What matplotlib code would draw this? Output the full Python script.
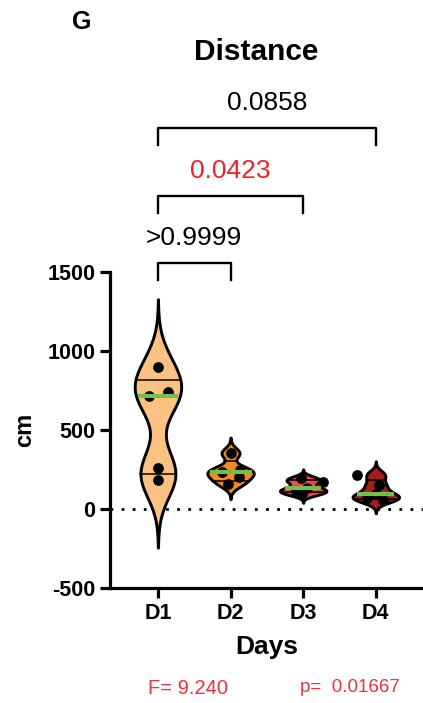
import numpy as np
import matplotlib
matplotlib.use("Agg")
import matplotlib.pyplot as plt

plt.rcParams['font.family'] = ['Liberation Sans', 'DejaVu Sans']
plt.rcParams['axes.unicode_minus'] = False

# data (cm)
days = ['D1', 'D2', 'D3', 'D4']
d1 = [899, 740, 715, 260, 184]
d2 = [354, 250, 234, 200, 160]
d3 = [195, 171, 130, 114, 95]
d4 = [215, 150, 95, 70, 60]
groups = [d1, d2, d3, d4]

# multiple comparisons vs D1
comparisons = [(0, 1, '>0.9999'), (0, 2, '0.0423'), (0, 3, '0.0858')]
anova_f = 'F= 9.240'
anova_p = 'p=  0.01667'

fills = ['#fcc283', '#f58a24', '#ec4b4b', '#a21e1e']
pcolors = ['black', '#f0202a', 'black']
# small horizontal scatter of the dots, like prism does
jitter = [[0, 0.14, -0.12, 0, 0],
          [0, 0.13, -0.12, 0.12, -0.04],
          [-0.03, 0.27, 0.05, -0.1, -0.02],
          [-0.26, 0.05, 0.0, -0.12, 0.1]]

fig = plt.figure(figsize=(4.23, 7.03), dpi=100)
ax = fig.add_axes([110/423, 1 - 588/703, 313/423, 316/703])

half = 0.32
for i, vals in enumerate(groups):
    v = np.array(vals, float)
    bw = 0.45 * v.std(ddof=1)
    y = np.linspace(v.min() - 3*bw, v.max() + 3*bw, 400)
    dens = np.exp(-0.5*((y[:, None] - v[None, :])/bw)**2).sum(axis=1)
    w = dens / dens.max() * half
    ax.fill_betweenx(y, i - w, i + w, facecolor=fills[i], edgecolor='black',
                     linewidth=2.1, zorder=2)
    q1, med, q3 = np.percentile(v, [25, 50, 75], method='weibull')
    for q in (q1, q3):
        hw = np.interp(q, y, w)
        ax.plot([i - hw, i + hw], [q, q], color='black', lw=1.1, zorder=3)
    ax.scatter(i + np.array(jitter[i]), v, s=60, color='black', zorder=4,
               linewidths=0)
    hw = np.interp(med, y, w)
    ax.plot([i - hw*0.92, i + hw*0.92], [med, med], color='#72c046', lw=3,
            zorder=5, solid_capstyle='butt')

ax.axhline(0, color='black', ls=(0, (1, 3)), lw=2, zorder=1)

ax.set_xlim(-0.66, 3.65)
ax.set_ylim(-500, 1500)
ax.set_yticks([-500, 0, 500, 1000, 1500])
ax.set_xticks(range(4))
ax.set_xticklabels(days)
for s in ('top', 'right'):
    ax.spines[s].set_visible(False)
for s in ('left', 'bottom'):
    ax.spines[s].set_linewidth(2.3)
ax.tick_params(width=2.3, length=7, labelsize=15.5)
for lab in ax.get_xticklabels() + ax.get_yticklabels():
    lab.set_fontweight('bold')
ax.set_xlabel('Days', fontsize=19, fontweight='bold', labelpad=8)
ax.set_ylabel('cm', fontsize=17, fontweight='bold', labelpad=8)

# brackets
levels = [1557, 1981, 2411]
for (a, b, txt), top, c in zip(comparisons, levels, pcolors):
    ax.plot([a, a, b, b], [top - 110, top, top, top - 110], color='black',
            lw=1.7, clip_on=False)
    ax.text((a + b)/2, top + 160, txt, ha='center', va='center', fontsize=19,
            color=c, clip_on=False)

fig.text(256/423, 1 - 52/703, 'Distance', ha='center', va='center',
         fontsize=21.5, fontweight='bold')
fig.text(82/423, 1 - 22/703, 'G', ha='center', va='center', fontsize=18,
         fontweight='bold')
fig.text(188/423, 1 - 688/703, anova_f, ha='center', va='center',
         fontsize=14.5, color='#f0303a')
fig.text(350/423, 1 - 688/703, anova_p, ha='center', va='center',
         fontsize=13.5, color='#f0303a')

fig.savefig('out.png', dpi=100)
